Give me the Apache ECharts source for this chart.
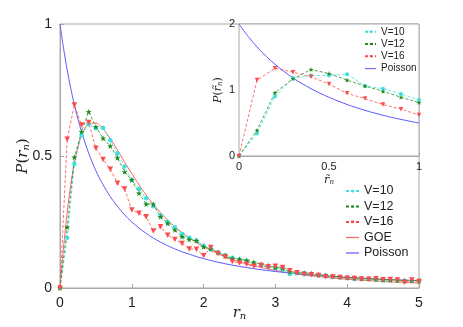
<!DOCTYPE html>
<html>
<head>
<meta charset="utf-8">
<script src="https://cdn.jsdelivr.net/npm/echarts@6/dist/echarts.min.js"></script>
<style>
  html, body { margin: 0; padding: 0; background: #fff; }
  #chart { width: 463px; height: 327px; }
</style>
</head>
<body>
<div id="chart"></div>
<script>
// main panel: P(r_n), points every 0.1
const rData = [0,0.1,0.2,0.3,0.4,0.5,0.6,0.7,0.8,0.9,1.0,1.1,1.2,1.3,1.4,1.5,1.6,1.7,1.8,1.9,2.0,
  2.1,2.2,2.3,2.4,2.5,2.6,2.7,2.8,2.9,3.0,3.1,3.2,3.3,3.4,3.5,3.6,3.7,3.8,3.9,4.0,
  4.1,4.2,4.3,4.4,4.5,4.6,4.7,4.8,4.9,5.0]
const v10 = [0,0.19,0.47,0.58,0.62,0.605,0.607,0.56,0.51,0.46,0.41,0.375,0.34,0.31,0.275,0.25,0.23,0.205,0.19,0.18,0.16,
  0.148,0.135,0.125,0.115,0.108,0.1,0.092,0.087,0.08,0.075,0.07,0.053,0.058,0.055,0.052,0.048,0.047,0.044,0.042,0.038,
  0.034,0.036,0.034,0.032,0.029,0.031,0.03,0.027,0.028,0.027]
const v12 = [0,0.23,0.495,0.592,0.668,0.611,0.567,0.538,0.493,0.44,0.409,0.359,0.318,0.317,0.27,0.245,0.22,0.194,0.184,0.179,0.156,
  0.148,0.135,0.121,0.112,0.109,0.105,0.098,0.09,0.085,0.078,0.075,0.062,0.058,0.057,0.055,0.05,0.047,0.045,0.042,0.04,
  0.038,0.036,0.035,0.033,0.031,0.03,0.029,0.027,0.028,0.026]
const v16 = [0,0.563,0.693,0.617,0.627,0.529,0.487,0.45,0.397,0.375,0.295,0.283,0.27,0.216,0.232,0.2,0.184,0.169,0.148,0.147,0.122,
  0.153,0.13,0.118,0.1,0.095,0.09,0.082,0.085,0.08,0.082,0.078,0.065,0.058,0.052,0.05,0.047,0.043,0.042,0.04,0.037,
  0.036,0.034,0.033,0.035,0.031,0.032,0.03,0.022,0.03,0.025]

// reference curves
const rCurve = [0,0.05,0.1,0.15,0.2,0.25,0.3,0.4,0.5,0.6,0.7,0.8,0.9,1.0,1.1,1.2,1.3,1.4,1.5,1.6,1.7,1.8,1.9,2.0,
  2.2,2.4,2.6,2.8,3.0,3.25,3.5,3.75,4.0,4.5,5.0]
const goe = [0,0.156,0.286,0.391,0.473,0.534,0.578,0.622,0.625,0.602,0.566,0.523,0.477,0.433,0.391,0.352,0.317,0.286,
  0.257,0.232,0.21,0.19,0.172,0.156,0.13,0.108,0.0914,0.0777,0.0665,0.0552,0.0463,0.0392,0.0334,0.0248,0.0189]
const poisson = [1,0.907,0.826,0.756,0.694,0.64,0.592,0.51,0.444,0.391,0.346,0.309,0.277,0.25,0.227,0.207,0.189,0.174,
  0.16,0.148,0.137,0.128,0.119,0.111,0.0977,0.0865,0.0772,0.0693,0.0625,0.0554,0.0494,0.0443,0.04,0.0331,0.0278]

// inset: P(r~_n)
const rtData = [0,0.1,0.2,0.3,0.4,0.5,0.6,0.7,0.8,0.9,1.0]
const t10 = [0,0.34,0.9,1.18,1.22,1.22,1.24,1.06,1.02,0.94,0.85]
const t12 = [0,0.39,0.96,1.17,1.31,1.25,1.15,1.06,0.98,0.89,0.81]
const t16 = [0,1.15,1.33,1.27,1.2,1.09,0.95,0.87,0.78,0.71,0.62]
const rtCurve = [0,0.05,0.1,0.15,0.2,0.25,0.3,0.35,0.4,0.45,0.5,0.55,0.6,0.65,0.7,0.75,0.8,0.85,0.9,0.95,1.0]
const tPoisson = [2,1.814,1.653,1.512,1.389,1.28,1.183,1.097,1.02,0.951,0.889,0.833,0.781,0.735,0.692,0.653,0.617,0.584,0.554,0.526,0.5]

const xTicks = ['0','1','2','3','4','5']

const pairs = (xs, ys) => xs.map((x, i) => [x, ys[i]])

const cCyan = '#3ee0e0'
const cGreen = '#1e8c1e'
const cRed = '#ff4a4a'
const cGoe = '#ff6464'
const cBlue = '#5a5aff'
const star = 'path://M0,-10L2.35,-3.09L9.51,-3.09L3.8,1.18L5.88,8.09L0,3.82L-5.88,8.09L-3.8,1.18L-9.51,-3.09L-2.35,-3.09Z'
const bar = 'path://M0,0H13V1.2H0Z'
const axisGray = '#a8a8a8'
const tickFont = 'Liberation Sans'
const rich = {
  i: {fontFamily: 'DejaVu Serif', fontStyle: 'italic', fontSize: 15, color: '#222'},
  p: {fontFamily: 'DejaVu Serif', fontSize: 15, color: '#222'},
  s: {fontFamily: 'DejaVu Serif', fontStyle: 'italic', fontSize: 10, color: '#222', padding: [6, 0, 0, 0]},
  si: {fontFamily: 'DejaVu Serif', fontStyle: 'italic', fontSize: 11, color: '#222'},
  sp: {fontFamily: 'DejaVu Serif', fontSize: 11, color: '#222'},
  ss: {fontFamily: 'DejaVu Serif', fontStyle: 'italic', fontSize: 7, color: '#222', padding: [4, 0, 0, 0]}
}

function dataSeries(name, xs, ys, color, symbol, size, grid, extra) {
  return Object.assign({
    name: name,
    type: 'line',
    xAxisIndex: grid,
    yAxisIndex: grid,
    data: pairs(xs, ys),
    symbol: symbol,
    symbolSize: size,
    showAllSymbol: true,
    lineStyle: {color: color, width: 0.8, type: [3, 2]},
    itemStyle: {color: color},
    z: 3
  }, extra || {})
}

function curve(name, xs, ys, color, grid) {
  return {
    name: name,
    type: 'line',
    xAxisIndex: grid,
    yAxisIndex: grid,
    data: pairs(xs, ys),
    smooth: 0.3,
    symbol: 'none',
    lineStyle: {color: color, width: 1},
    itemStyle: {color: color},
    z: 2
  }
}

let myChart = echarts.init(document.getElementById('chart'), null, {renderer: 'canvas'})

let option = {
  backgroundColor: '#fff',
  animation: false,
  grid: [
    {left: 60, top: 24, width: 359, height: 264, show: true, borderColor: axisGray, borderWidth: 1, outerBoundsMode: 'none', containLabel: false},
    {left: 239, top: 24, width: 180, height: 132, show: true, borderColor: axisGray, borderWidth: 1, backgroundColor: '#fff', z: 1, outerBoundsMode: 'none', containLabel: false}
  ],
  legend: [
    {
      data: ['V=10', 'V=12', 'V=16',
        {name: 'GOE', icon: bar, itemStyle: {color: cGoe}},
        {name: 'Poisson', icon: bar, itemStyle: {color: cBlue}}],
      orient: 'vertical', left: 345, top: 184, padding: 0,
      itemWidth: 13, itemHeight: 4, itemGap: 1.5,
      textStyle: {fontFamily: tickFont, fontSize: 12.5, color: '#222', lineHeight: 14},
      selectedMode: false
    },
    {
      data: ['V=10 ', 'V=12 ', 'V=16 ', {name: 'Poisson ', icon: bar, itemStyle: {color: cBlue}}],
      orient: 'vertical', left: 364, top: 26, padding: 0,
      itemWidth: 11, itemHeight: 3, itemGap: 0.8,
      textStyle: {fontFamily: tickFont, fontSize: 10, color: '#222', lineHeight: 11.5},
      selectedMode: false
    }
  ],
  xAxis: [
    {
      type: 'value', gridIndex: 0, min: 0, max: 5, interval: 1,
      name: '{i|r}{s|n}', nameLocation: 'middle', nameGap: 17, nameMoveOverlap: false,
      nameTextStyle: {rich: rich},
      axisLine: {lineStyle: {color: axisGray}},
      axisTick: {inside: true, length: 4, lineStyle: {color: axisGray}},
      axisLabel: {margin: 8, fontFamily: tickFont, fontSize: 14, color: '#222',
        formatter: v => xTicks[Math.round(v)]},
      splitLine: {show: false}
    },
    {
      type: 'value', gridIndex: 1, min: 0, max: 1, interval: 0.5,
      name: '{si|r\u0303}{ss|n}', nameLocation: 'middle', nameGap: 19, nameMoveOverlap: false,
      nameTextStyle: {rich: rich},
      axisLine: {lineStyle: {color: axisGray}},
      axisTick: {inside: true, length: 3, lineStyle: {color: axisGray}},
      axisLabel: {margin: 5, fontFamily: tickFont, fontSize: 11, color: '#222'},
      splitLine: {show: false}
    }
  ],
  yAxis: [
    {
      type: 'value', gridIndex: 0, min: 0, max: 1, interval: 0.5,
      name: '{i|P}{p|(}{i|r}{s|n}{p|)}', nameLocation: 'middle', nameGap: 29, nameRotate: 90, nameMoveOverlap: false,
      nameTextStyle: {rich: rich},
      axisLine: {lineStyle: {color: axisGray}},
      axisTick: {inside: true, length: 4, lineStyle: {color: axisGray}},
      axisLabel: {margin: 8, fontFamily: tickFont, fontSize: 14, color: '#222'},
      splitLine: {show: false}
    },
    {
      type: 'value', gridIndex: 1, min: 0, max: 2, interval: 1,
      name: '{si|P}{sp|(}{si|r\u0303}{ss|n}{sp|)}', nameLocation: 'middle', nameGap: 15, nameRotate: 90, nameMoveOverlap: false,
      nameTextStyle: {rich: rich},
      axisLine: {lineStyle: {color: axisGray}},
      axisTick: {inside: true, length: 3, lineStyle: {color: axisGray}},
      axisLabel: {margin: 4, fontFamily: tickFont, fontSize: 11, color: '#222'},
      splitLine: {show: false}
    }
  ],
  series: [
    curve('GOE', rCurve, goe, cGoe, 0),
    curve('Poisson', rCurve, poisson, cBlue, 0),
    dataSeries('V=10', rData, v10, cCyan, 'circle', 4.5, 0),
    dataSeries('V=12', rData, v12, cGreen, star, 6, 0),
    dataSeries('V=16', rData, v16, cRed, 'triangle', 5.5, 0, {symbolRotate: 180}),
    curve('Poisson ', rtCurve, tPoisson, cBlue, 1),
    dataSeries('V=10 ', rtData, t10, cCyan, 'circle', 4, 1),
    dataSeries('V=12 ', rtData, t12, cGreen, star, 5, 1),
    dataSeries('V=16 ', rtData, t16, cRed, 'triangle', 4.5, 1, {symbolRotate: 180})
  ]
}

myChart.setOption(option)
window.onresize = function () {
  myChart.resize()
}
</script>
</body>
</html>
